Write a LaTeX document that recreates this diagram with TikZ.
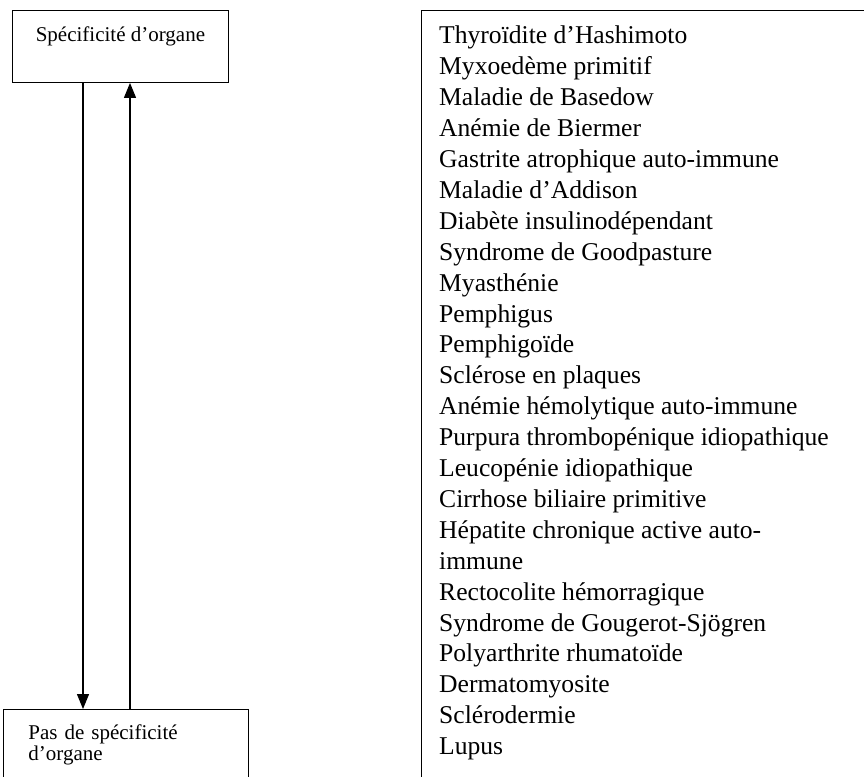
\documentclass[tikz,border=0pt]{standalone}
\usepackage{fontspec}
\setmainfont{Liberation Serif}
\usetikzlibrary{arrows.meta}

\begin{document}
\begin{tikzpicture}[x=1pt, y=-1pt,
    box/.style={draw, line width=0.9pt, inner sep=0pt},
    arr/.style={line width=1.2pt, -{Triangle[width=12pt,length=15pt]}}]
  \useasboundingbox (0,0) rectangle (864,776);
  % left side
  \node[box, anchor=north west, minimum width=216pt, minimum height=72pt,
        font=\fontsize{21}{22}\selectfont, text height=13pt, text depth=23pt]
        (spec) at (12,10) {Spécificité d’organe};
  \node[box, anchor=north west, minimum width=245pt, minimum height=70pt,
        align=left, text width=195pt, inner xsep=25pt,
        font=\fontsize{21}{21}\selectfont]
        (nospec) at (3,709) {Pas de spécificité\\d’organe};
  \draw[arr] (spec.south -| 83,0) -- (nospec.north -| 83,0);
  \draw[arr] (nospec.north -| 130,0) -- (spec.south -| 130,0);
  % right side
  \node[box, anchor=north west, minimum width=480pt, minimum height=800pt]
        (frame) at (421,10) {};
  \node[anchor=north west, align=left, inner sep=0pt,
        font=\fontsize{25.6}{30.9}\selectfont] (list) at (439,26) {%
    Thyroïdite d’Hashimoto\\
    Myxoedème primitif\\
    Maladie de Basedow\\
    Anémie de Biermer\\
    Gastrite atrophique auto-immune\\
    Maladie d’Addison\\
    Diabète insulinodépendant\\
    Syndrome de Goodpasture\\
    Myasthénie\\
    Pemphigus\\
    Pemphigoïde\\
    Sclérose en plaques\\
    Anémie hémolytique auto-immune\\
    Purpura thrombopénique idiopathique\\
    Leucopénie idiopathique\\
    Cirrhose biliaire primitive\\
    Hépatite chronique active auto-\\
    immune\\
    Rectocolite hémorragique\\
    Syndrome de Gougerot-Sjögren\\
    Polyarthrite rhumatoïde\\
    Dermatomyosite\\
    Sclérodermie\\
    Lupus};
\end{tikzpicture}
\end{document}
